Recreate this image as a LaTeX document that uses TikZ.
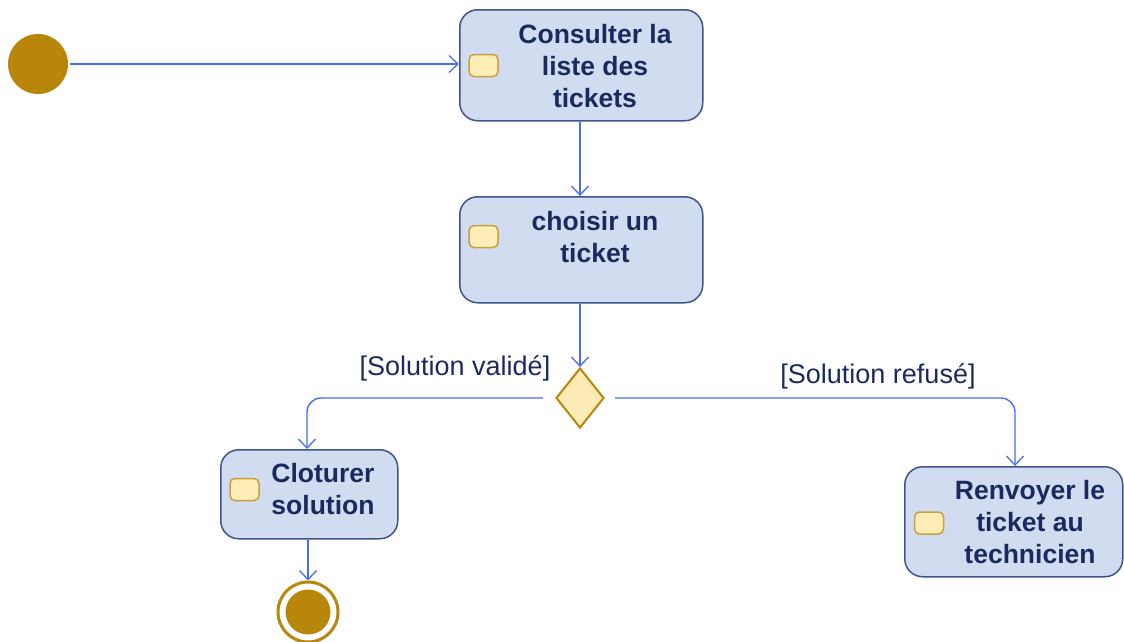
\documentclass[tikz,border=0pt]{standalone}
\usepackage{fontspec}
\setmainfont{Liberation Sans}
\usetikzlibrary{arrows.meta,shapes.geometric}
\definecolor{boxfill}{HTML}{D2DCF0}
\definecolor{boxline}{HTML}{3F5487}
\definecolor{iconfill}{HTML}{FFEDB8}
\definecolor{iconline}{HTML}{C99F3E}
\definecolor{gold}{HTML}{B8860B}
\definecolor{diafill}{HTML}{FDEBB6}
\definecolor{flow}{HTML}{4A6CF0}
\definecolor{ink}{HTML}{1B2A5E}
\tikzset{
  action/.style={draw=boxline, line width=1.5pt, fill=boxfill, rounded corners=18pt,
    inner sep=0pt, anchor=north west},
  icon/.style={draw=iconline, line width=1.5pt, fill=iconfill, rounded corners=5pt,
    minimum width=29pt, minimum height=22pt, inner sep=0pt},
  label/.style={text=ink, font=\fontsize{26.5}{32}\selectfont\bfseries, align=center, inner sep=0pt},
  guard/.style={text=ink, font=\fontsize{27}{32}\selectfont, inner sep=0pt},
  conn/.style={draw=flow, line width=1.4pt,
    -{Straight Barb[length=9pt, width=17pt, line width=1.3pt]}},
}
\begin{document}
\begin{tikzpicture}[x=1pt, y=-1pt]
\useasboundingbox (0,0) rectangle (1124,641);

% start and end states
\node[circle, fill=gold, minimum size=60pt, inner sep=0pt] (init) at (38,64) {};
\node[circle, draw=gold, line width=3pt, fill=white, minimum size=60pt, inner sep=0pt] (final) at (308,612) {};
\fill[gold] (final.center) circle (22.5pt);

% actions
\node[action, minimum width=243pt, minimum height=111pt] (b1) at (459,9) {};
\node[icon] (i1) at (483.5,65.5) {};
\node[label] (t1) at (595,66) {Consulter la\\liste des\\tickets};

\node[action, minimum width=243pt, minimum height=106pt] (b2) at (459,196) {};
\node[icon] (i2) at (483.5,236.5) {};
\node[label] (t2) at (595,237) {choisir un\\ticket};

\node[action, minimum width=177pt, minimum height=89pt] (b3) at (220,449) {};
\node[icon] (i3) at (244.5,489.5) {};
\node[label] (t3) at (323,489) {Cloturer\\solution};

\node[action, minimum width=218pt, minimum height=110pt] (b4) at (904,466) {};
\node[icon] (i4) at (929,523) {};
\node[label] (t4) at (1030,522) {Renvoyer le\\ticket au\\technicien};

% decision
\node[diamond, draw=gold, line width=2pt, fill=diafill, minimum width=48pt,
  minimum height=60pt, inner sep=0pt] (dec) at (580,398) {};

% guards
\node[guard] (g1) at (455,368) {[Solution validé]};
\node[guard] (g2) at (878,376) {[Solution refusé]};

% flows
\draw[conn, shorten <=2pt] (init) -- (b1.west |- init);
\draw[conn] (dec.north |- b1.south) -- (dec.north |- b2.north);
\draw[conn] (dec.north |- b2.south) -- (dec.north);
\draw[conn, rounded corners=14pt, shorten <=12pt] (dec.west) -| (b3.north -| 307,0);
\draw[conn, rounded corners=14pt, shorten <=10pt] (dec.east) -| (b4.north -| 1015,0);
\draw[conn] (final.north |- b3.south) -- (final.north);
\end{tikzpicture}
\end{document}
